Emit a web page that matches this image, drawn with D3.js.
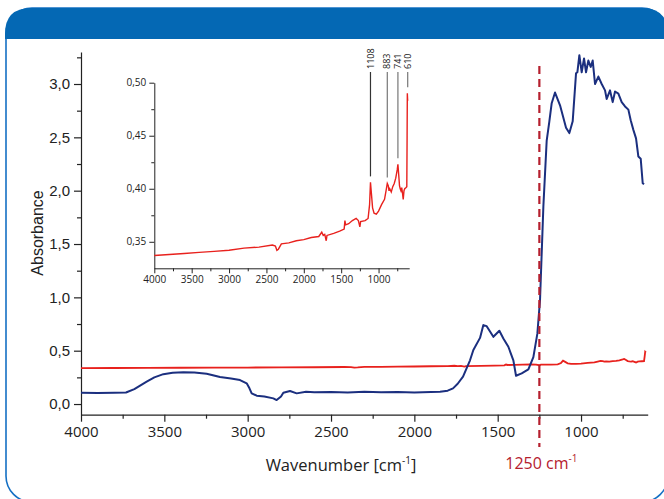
<!DOCTYPE html>
<html>
<head>
<meta charset="utf-8">
<script src="https://cdn.jsdelivr.net/npm/d3@7"></script>
<style>
  body { margin: 0; background: #fff; }
  svg { display: block; }
  .sans { font-family: "Open Sans", sans-serif; }
  .arial { font-family: "Liberation Sans", Arial, sans-serif; }
</style>
</head>
<body>
<svg width="664" height="499"></svg>
<script>
// blue spectrum (main plot)
const blueWavenumber = [4000, 3900, 3800, 3730, 3680, 3606, 3560, 3506, 3450, 3386, 3320, 3246, 3166, 3100, 3046, 3006, 2990, 2976, 2946, 2900, 2846, 2826, 2800, 2786, 2746, 2706, 2650, 2600, 2500, 2400, 2300, 2200, 2100, 2000, 1900, 1846, 1800, 1768, 1740, 1708, 1666, 1646, 1606, 1586, 1566, 1526, 1490, 1466, 1436, 1406, 1390, 1356, 1316, 1286, 1262, 1246, 1226, 1206, 1190, 1176, 1156, 1126, 1102, 1090, 1070, 1050, 1030, 1022, 1010, 996, 982, 970, 956, 942, 930, 916, 896, 876, 856, 846, 826, 810, 796, 776, 756, 736, 716, 702, 686, 670, 656, 642, 630, 622];
const blueAbsorbance = [0.105, 0.104, 0.105, 0.108, 0.14, 0.21, 0.25, 0.28, 0.293, 0.297, 0.295, 0.284, 0.253, 0.24, 0.225, 0.194, 0.15, 0.10, 0.078, 0.07, 0.053, 0.037, 0.07, 0.106, 0.122, 0.10, 0.115, 0.11, 0.112, 0.108, 0.114, 0.11, 0.112, 0.108, 0.113, 0.115, 0.125, 0.147, 0.19, 0.256, 0.41, 0.506, 0.62, 0.74, 0.73, 0.63, 0.687, 0.615, 0.537, 0.41, 0.265, 0.287, 0.325, 0.44, 0.66, 0.975, 1.85, 2.47, 2.65, 2.82, 2.92, 2.80, 2.66, 2.59, 2.54, 2.65, 3.10, 3.11, 3.27, 3.11, 3.24, 3.11, 3.22, 3.16, 3.22, 3.0, 3.07, 3.0, 2.94, 2.86, 2.94, 2.83, 2.93, 2.91, 2.83, 2.79, 2.76, 2.66, 2.57, 2.49, 2.32, 2.30, 2.07, 2.06];

// red spectrum (main plot + inset)
const redWavenumber = [4000, 3800, 3600, 3400, 3200, 3000, 2800, 2600, 2420, 2380, 2360, 2340, 2300, 2200, 2100, 2000, 1900, 1800, 1760, 1740, 1720, 1700, 1690, 1600, 1520, 1460, 1450, 1440, 1400, 1350, 1300, 1270, 1250, 1240, 1180, 1140, 1120, 1108, 1095, 1080, 1060, 1030, 1000, 960, 920, 900, 883, 870, 860, 850, 830, 810, 790, 770, 750, 741, 730, 720, 710, 700, 690, 680, 670, 660, 650, 635, 622, 618, 615, 612, 610];
const redAbsorbance = [0.337, 0.338, 0.339, 0.340, 0.341, 0.342, 0.344, 0.345, 0.347, 0.346, 0.342, 0.343, 0.348, 0.349, 0.351, 0.352, 0.354, 0.355, 0.359, 0.356, 0.357, 0.351, 0.356, 0.358, 0.360, 0.362, 0.370, 0.366, 0.367, 0.370, 0.372, 0.370, 0.364, 0.369, 0.370, 0.372, 0.385, 0.406, 0.395, 0.382, 0.377, 0.376, 0.379, 0.385, 0.390, 0.398, 0.405, 0.403, 0.398, 0.400, 0.397, 0.402, 0.405, 0.410, 0.418, 0.423, 0.413, 0.403, 0.400, 0.398, 0.401, 0.396, 0.390, 0.398, 0.400, 0.401, 0.402, 0.45, 0.49, 0.485, 0.483];

const peakLabels = [1108, 883, 741, 610];
const peakValues = [0.406, 0.405, 0.423, 0.49];

const mainXTicks = [4000, 3500, 3000, 2500, 2000, 1500, 1000];
const mainYTicks = [0, 0.5, 1, 1.5, 2, 2.5, 3];
const insetYTicks = [0.35, 0.40, 0.45, 0.50];
const markerWavenumber = 1250;

const svg = d3.select("svg");
const comma = d => d3.format(".1f")(d).replace(".", ",");
const comma2 = d => d3.format(".2f")(d).replace(".", ",");

// frame
svg.append("rect")
  .attr("x", 6).attr("y", 8).attr("width", 662).attr("height", 494)
  .attr("rx", 26).attr("fill", "#fff")
  .attr("stroke", "#1570c4").attr("stroke-width", 1.6);
svg.append("path")
  .attr("d", "M5,39 L5,34 Q5,8 31,8 L642,8 Q668,8 668,34 L668,39 Z")
  .attr("fill", "#0468b4");

// main plot
const x = d3.scaleLinear().domain([4000, 600]).range([81, 647.7]);
const y = d3.scaleLinear().domain([-0.1, 3.3]).range([414.7, 52]);

const g = svg.append("g");

g.append("g")
  .attr("transform", "translate(0,414.7)")
  .call(d3.axisBottom(x).tickValues(d3.range(3750, 600, -500)).tickSize(4).tickFormat(""))
  .call(a => a.select(".domain").remove());
g.append("g")
  .attr("class", "sans")
  .attr("transform", "translate(0,414.7)")
  .call(d3.axisBottom(x).tickValues(mainXTicks).tickSize(7).tickSizeOuter(0).tickPadding(5).tickFormat(d3.format("d")))
  .call(a => a.selectAll("text").attr("font-size", 15).attr("fill", "#222"));

g.append("g")
  .attr("transform", "translate(81,0)")
  .call(d3.axisLeft(y).tickValues([0.25, 0.75, 1.25, 1.75, 2.25, 2.75, 3.25]).tickSize(4).tickFormat(""))
  .call(a => a.select(".domain").remove());
g.append("g")
  .attr("class", "arial")
  .attr("transform", "translate(81,0)")
  .call(d3.axisLeft(y).tickValues(mainYTicks).tickSize(7).tickSizeOuter(0).tickPadding(4).tickFormat(comma))
  .call(a => a.selectAll("text").attr("font-size", 15).attr("fill", "#222"));

g.selectAll(".domain, .tick line").attr("stroke", "#222").attr("stroke-width", 1.2);

const line = d3.line().x(d => x(d[0])).y(d => y(d[1]));

g.append("path")
  .datum(d3.zip(redWavenumber, redAbsorbance))
  .attr("d", line).attr("fill", "none")
  .attr("stroke", "#e8211d").attr("stroke-width", 1.8);

g.append("path")
  .datum(d3.zip(blueWavenumber, blueAbsorbance))
  .attr("d", line).attr("fill", "none")
  .attr("stroke", "#1b2f7f").attr("stroke-width", 2).attr("stroke-linejoin", "round");

// 1250 marker
g.append("line")
  .attr("x1", x(markerWavenumber)).attr("x2", x(markerWavenumber))
  .attr("y1", 66).attr("y2", 447)
  .attr("stroke", "#b5202e").attr("stroke-width", 2.2)
  .attr("stroke-dasharray", "8,5");

const mk = g.append("text").attr("class", "sans")
  .attr("x", x(markerWavenumber) + 2).attr("y", 469)
  .attr("text-anchor", "middle").attr("font-size", 16).attr("fill", "#b5202e");
mk.append("tspan").text("1250 cm");
mk.append("tspan").attr("dy", -7).attr("font-size", 10).text("-1");

// axis titles
const xt = g.append("text").attr("class", "sans")
  .attr("x", 341).attr("y", 471)
  .attr("text-anchor", "middle").attr("font-size", 16.5).attr("fill", "#222");
xt.append("tspan").text("Wavenumber [cm");
xt.append("tspan").attr("dy", -7).attr("font-size", 10).text("-1");
xt.append("tspan").attr("dy", 7).text("]");

g.append("text").attr("class", "arial")
  .attr("transform", "translate(43,233) rotate(-90)")
  .attr("text-anchor", "middle").attr("font-size", 16).attr("fill", "#222")
  .text("Absorbance");

// inset
const ix = d3.scaleLinear().domain([4000, 590]).range([154.3, 409.2]);
const iy = d3.scaleLinear().domain([0.325, 0.50]).range([268.3, 82.7]);
const ig = svg.append("g");

ig.append("g")
  .attr("transform", "translate(0,268.3)")
  .call(d3.axisBottom(ix).tickValues(d3.range(3750, 600, -500)).tickSize(3).tickFormat(""))
  .call(a => a.select(".domain").remove());
ig.append("g")
  .attr("class", "sans")
  .attr("transform", "translate(0,268.3)")
  .call(d3.axisBottom(ix).tickValues(mainXTicks).tickSize(5).tickSizeOuter(0).tickPadding(3).tickFormat(d3.format("d")))
  .call(a => a.selectAll("text").attr("font-size", 10).attr("fill", "#222"));

ig.append("g")
  .attr("transform", "translate(154.3,0)")
  .call(d3.axisLeft(iy).tickValues([0.375, 0.425, 0.475]).tickSize(3).tickFormat(""))
  .call(a => a.select(".domain").remove());
ig.append("g")
  .attr("class", "sans")
  .attr("transform", "translate(154.3,0)")
  .call(d3.axisLeft(iy).tickValues(insetYTicks).tickSize(5).tickSizeOuter(0).tickPadding(3).tickFormat(comma2))
  .call(a => a.selectAll("text").attr("font-size", 10).attr("fill", "#222"));

ig.selectAll(".domain, .tick line").attr("stroke", "#222").attr("stroke-width", 1);

const iline = d3.line().x(d => ix(d[0])).y(d => iy(d[1]));
ig.append("path")
  .datum(d3.zip(redWavenumber, redAbsorbance))
  .attr("d", iline).attr("fill", "none")
  .attr("stroke", "#e8211d").attr("stroke-width", 1.4);

// peak labels
const peaks = ig.selectAll(".peak").data(d3.zip(peakLabels, peakValues)).join("g").attr("class", "peak");
peaks.append("line")
  .attr("x1", d => ix(d[0])).attr("x2", d => ix(d[0]))
  .attr("y1", 72).attr("y2", d => Math.max(83, iy(d[1]) - 6))
  .attr("stroke", (d, i) => i === 0 ? "#333" : "#777").attr("stroke-width", 1.2);
peaks.append("text").attr("class", "sans")
  .attr("transform", d => `translate(${ix(d[0])},69) rotate(-90)`)
  .attr("dy", "0.35em").attr("font-size", 9).attr("fill", "#222")
  .text(d => d[0]);
</script>
</body>
</html>
